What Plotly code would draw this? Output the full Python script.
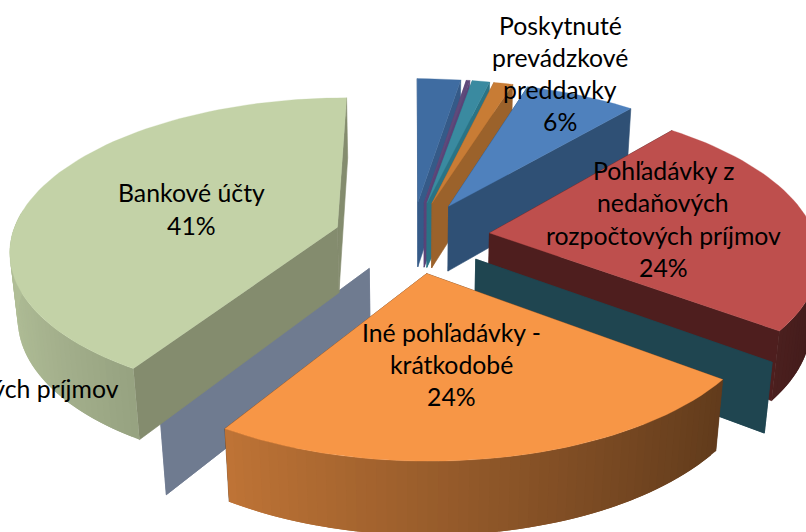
import math
import plotly.graph_objects as go

# ---- data ----
categories = ["Drobné A", "Drobné B", "Drobné C", "Drobné D",
              "Poskytnuté prevádzkové preddavky",
              "Pohľadávky z nedaňových rozpočtových príjmov",
              "Pohľadávky D",
              "Iné pohľadávky - krátkodobé",
              "Pohľadávky z daňových príjmov",
              "Bankové účty"]
values = [2.5, 0.2, 1.0, 1.1, 6.4, 24.1, 0, 23.6, 0, 41.1]

top_colors = ["#3F6CA1", "#5E4A7A", "#3A8AA0", "#C87C35", "#4F81BD",
              "#BE4F4D", "#1F4550", "#F79646", "#6F7B90", "#C3D2A7"]
face_colors = ["#355A88", "#5A4378", "#2A7385", "#9B622B", "#2F5075",
               "#4E1E1E", "#1F4550", "#5F3B1E", "#6F7B90", "#848C6E"]
draw_order = [0, 1, 2, 3, 4, 5, 6, 8, 9, 7]

# label text blocks: lines, centre x, first line centre y
label_lines = [["Poskytnuté", "prevádzkové", "preddavky", "6%"],
               ["Pohľadávky z", "nedaňových", "rozpočtových príjmov", "24%"],
               ["Iné pohľadávky -", "krátkodobé", "24%"],
               ["Bankové účty", "41%"]]
label_x = [560, 663, 451, 191]
label_y = [25, 170, 332, 192]
label_step = [32, 32.5, 32, 33]
clipped_label = "Pohľadávky z daňových príjmov"

# ---- projection of the tilted, exploded pie ----
CX, CY, A, B, K, EXPL, DEPTH, ZK = 412, 237, 326, 150, 0.14, 0.24, 66, 0.02


def project(x, y, z=0.0):
    w = 1 + K * y + ZK * z
    return CX + A * x / w, CY + (-B * y + DEPTH * z * (1 + ZK)) / w


def polar(deg, r=1.0):
    t = math.radians(deg)
    return r * math.sin(t), r * math.cos(t)


def scale(hex_color, f):
    rgb = [int(hex_color[i:i + 2], 16) for i in (1, 3, 5)]
    return "rgb(%d,%d,%d)" % tuple(max(0, min(255, round(c * f))) for c in rgb)


fig = go.Figure()


def poly(points, color, seam=0.6):
    xs = [p[0] for p in points] + [points[0][0]]
    ys = [p[1] for p in points] + [points[0][1]]
    fig.add_trace(go.Scatter(x=xs, y=ys, mode="lines", fill="toself", fillcolor=color,
                             line=dict(color=color, width=seam), hoverinfo="skip",
                             showlegend=False))


total = sum(values)
starts = [sum(values[:i]) / total * 360 for i in range(len(values))]


def draw_slice(idx):
    start = starts[idx]
    sweep = values[idx] / total * 360
    end = start + sweep
    top, face = top_colors[idx], face_colors[idx]
    ex, ey = polar((start + end) / 2, EXPL)

    def rim(deg, z=0.0):
        px, py = polar(deg)
        return project(ex + px, ey + py, z)

    apex_t, apex_b = project(ex, ey, 0), project(ex, ey, 1)

    # radial faces: the one nearer the viewer last
    for deg in sorted([start, end], key=lambda d: -math.cos(math.radians(d))):
        poly([apex_t, rim(deg), rim(deg, 1), apex_b], face)

    if sweep > 0:
        # outer wall, front part only, shaded by direction; bands overlap to hide seams
        n = max(1, int(sweep / 1.5))
        for i in range(n):
            a0 = start + sweep * i / n
            a1 = min(end, start + sweep * (i + 1) / n + 1.5)
            mid = start + sweep * (i + 0.5) / n
            if math.cos(math.radians(mid)) < 0.1:
                f = 0.62 - 0.284 * math.sin(math.radians(mid))
                poly([rim(a0 + (a1 - a0) * j / 3) for j in range(4)]
                     + [rim(a0 + (a1 - a0) * j / 3, 1) for j in range(3, -1, -1)],
                     scale(top, f), seam=0)
        n = max(2, int(sweep / 2))
        arc = [rim(start + sweep * i / n) for i in range(n + 1)]
        poly([apex_t] + arc, top, seam=0.3)


for idx in draw_order:
    draw_slice(idx)

# ---- text ----
FONT = dict(family="Lato, Carlito, sans-serif", size=24.8, color="#000000")
for lines, x0, y0, step in zip(label_lines, label_x, label_y, label_step):
    for i, line in enumerate(lines):
        fig.add_annotation(x=x0, y=y0 + i * step, text=line, showarrow=False, font=FONT,
                           xanchor="center", yanchor="middle")
fig.add_annotation(x=121, y=388, text=clipped_label, showarrow=False, font=FONT,
                   xanchor="right", yanchor="middle")

fig.update_layout(width=806, height=532, margin=dict(l=0, r=0, t=0, b=0),
                  paper_bgcolor="#FFFFFF", plot_bgcolor="#FFFFFF", showlegend=False,
                  xaxis=dict(range=[0, 806], visible=False, fixedrange=True),
                  yaxis=dict(range=[532, 0], visible=False, fixedrange=True))
fig.write_html("out.html", config=dict(displayModeBar=False),
               post_script="document.body.style.margin='0';document.body.style.overflow='hidden';")
